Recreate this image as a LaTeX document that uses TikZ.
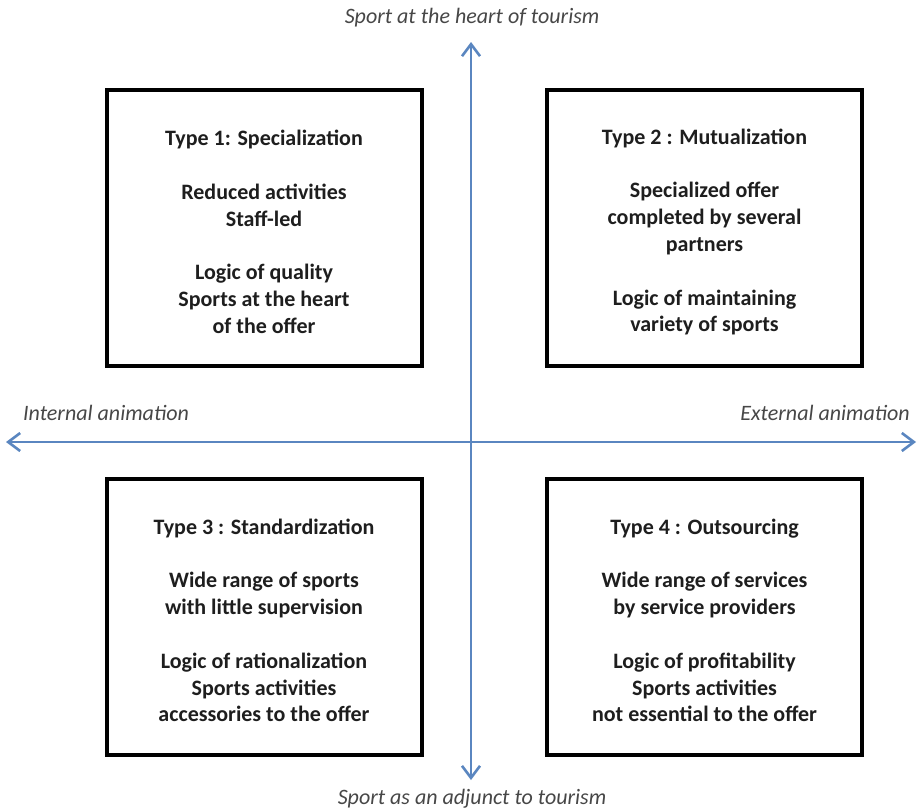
\documentclass[tikz,border=0pt]{standalone}
\usepackage{fontspec}
\setmainfont{Carlito}
\usetikzlibrary{arrows.meta}
\definecolor{axisblue}{HTML}{5A86C0}
\definecolor{boxtext}{HTML}{1E1E1E}
\definecolor{labeltext}{HTML}{474747}
\newcommand{\gap}{\\[26.8pt]}
\newcommand{\firstline}{\rule{0pt}{23.5pt}}
\begin{document}
\begin{tikzpicture}[x=1pt,y=-1pt,
  typebox/.style={draw=black,line width=4pt,minimum width=315pt,minimum height=276pt,
    align=center,inner sep=0pt,text=boxtext,
    font=\bfseries\fontsize{22}{26.8}\selectfont},
  axislabel/.style={text=labeltext,inner sep=0pt,font=\itshape\fontsize{22}{26}\selectfont},
  axis/.style={draw=axisblue,line width=2.6pt,
    {Straight Barb[length=12pt,width=18pt,line width=2.6pt]}-{Straight Barb[length=12pt,width=18pt,line width=2.6pt]}}]
\useasboundingbox (0,0) rectangle (920,811);
\fill[white] (0,0) rectangle (920,811);

% quadrant axes
\coordinate (top) at (471,42);
\coordinate (bottom) at (471,780);
\coordinate (left) at (6,442);
\coordinate (right) at (916,442);
\draw[axis] (bottom) -- (top);
\draw[axis] (left) -- (right);

% axis captions
\node[axislabel] (ltop) at (472,18) {Sport at the heart of tourism};
\node[axislabel] (lbottom) at (472,799) {Sport as an adjunct to tourism};
\node[axislabel,anchor=west] (lleft) at (23,413) {Internal animation};
\node[axislabel,anchor=east] (lright) at (910,413) {External animation};

% the four types
\node[typebox] (t1) at (264,228) {\firstline Type 1: Specialization\gap
  Reduced activities\\ Staff-led\gap
  Logic of quality\\ Sports at the heart\\ of the offer};
\node[typebox] (t2) at (704.5,228) {\firstline Type 2 : Mutualization\gap
  Specialized offer\\ completed by several\\ partners\gap
  Logic of maintaining\\ variety of sports};
\node[typebox] (t3) at (264,616.5) {\firstline Type 3 : Standardization\gap
  Wide range of sports\\ with little supervision\gap
  Logic of rationalization\\ Sports activities\\ accessories to the offer};
\node[typebox] (t4) at (704.5,616.5) {\firstline Type 4 : Outsourcing\gap
  Wide range of services\\ by service providers\gap
  Logic of profitability\\ Sports activities\\ not essential to the offer};
\end{tikzpicture}
\end{document}
